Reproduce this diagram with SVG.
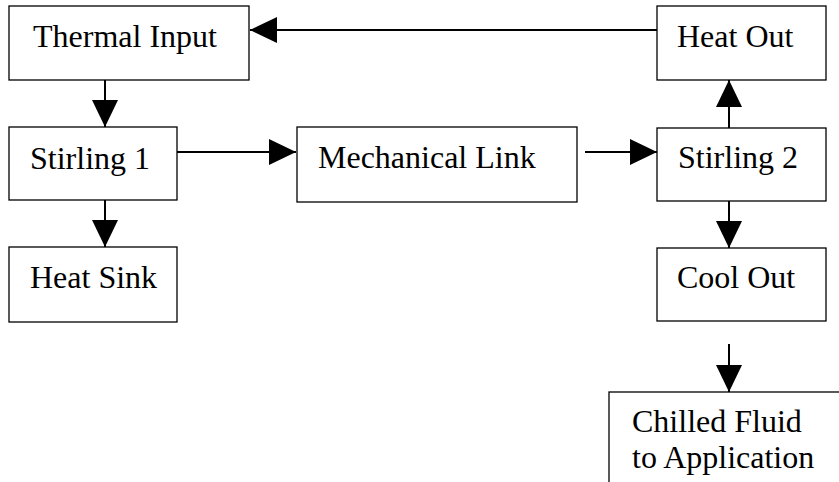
<svg xmlns="http://www.w3.org/2000/svg" width="839" height="482" viewBox="0 0 839 482">
<style>
.box{fill:#fff;stroke:#000;stroke-width:1.3}
.lbl{font-family:"Liberation Serif","Times New Roman",serif;font-size:32px;fill:#000}
.con{stroke:#000;stroke-width:2;fill:none;marker-end:url(#ah)}
</style>
<defs>
<marker id="ah" markerUnits="userSpaceOnUse" markerWidth="27" markerHeight="26" refX="27" refY="13" orient="auto">
<path d="M0,0 L27,13 L0,26 Z" fill="#000"/>
</marker>
</defs>
<rect width="839" height="482" fill="#fff"/>
<g id="thermal-input"><rect class="box" x="9" y="6" width="240" height="74"/><text class="lbl" x="33" y="47">Thermal Input</text></g>
<g id="heat-out"><rect class="box" x="657" y="6" width="169" height="74"/><text class="lbl" x="677" y="47">Heat Out</text></g>
<g id="stirling-1"><rect class="box" x="9" y="127" width="168" height="73"/><text class="lbl" x="30" y="169">Stirling 1</text></g>
<g id="mechanical-link"><rect class="box" x="297" y="127" width="280" height="75"/><text class="lbl" x="318" y="168">Mechanical Link</text></g>
<g id="stirling-2"><rect class="box" x="657" y="128" width="169" height="73"/><text class="lbl" x="678" y="168">Stirling 2</text></g>
<g id="heat-sink"><rect class="box" x="9" y="247" width="168" height="75"/><text class="lbl" x="30" y="288">Heat Sink</text></g>
<g id="cool-out"><rect class="box" x="657" y="248" width="169" height="73"/><text class="lbl" x="677" y="288">Cool Out</text></g>
<g id="chilled-fluid"><rect class="box" x="609" y="392" width="250" height="120"/><text class="lbl" x="632" y="432">Chilled Fluid</text><text class="lbl" x="632" y="468">to Application</text></g>
<g id="connectors">
<line class="con" x1="657" y1="30" x2="250" y2="30"/>
<line class="con" x1="105" y1="80" x2="105" y2="127"/>
<line class="con" x1="177" y1="152" x2="296" y2="152"/>
<line class="con" x1="585" y1="152" x2="657" y2="152"/>
<line class="con" x1="729" y1="128" x2="729" y2="80"/>
<line class="con" x1="105" y1="200" x2="105" y2="247"/>
<line class="con" x1="729" y1="201" x2="729" y2="248"/>
<line class="con" x1="729" y1="344" x2="729" y2="392"/>
</g>
</svg>
